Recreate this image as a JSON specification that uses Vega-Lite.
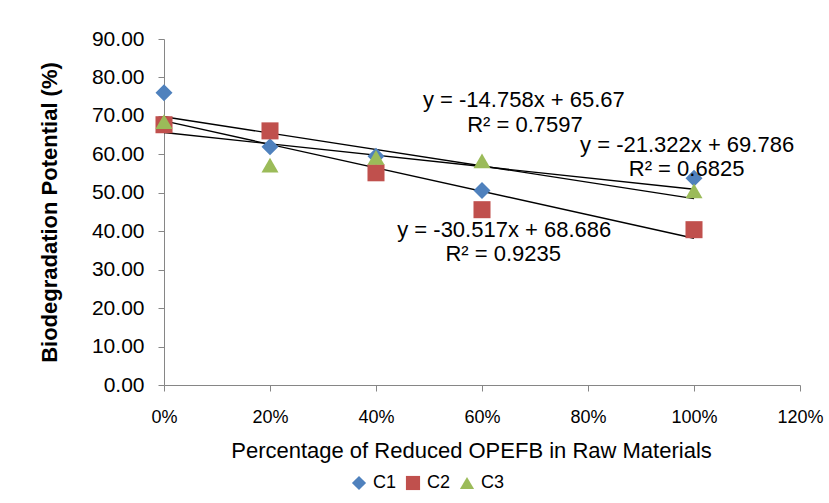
{
  "$schema": "https://vega.github.io/schema/vega-lite/v6.json",
  "autosize": "none",
  "width": 636,
  "height": 346,
  "padding": {"left": 164, "top": 39, "right": 29, "bottom": 118},
  "background": "white",
  "config": {
    "view": {"stroke": null},
    "font": "Liberation Sans",
    "axis": {"grid": false, "domainColor": "#868686", "tickColor": "#868686", "labelColor": "#000000", "titleColor": "#000000", "labelFont": "Liberation Sans", "titleFont": "Liberation Sans"},
    "legend": {"labelFont": "Liberation Sans", "labelColor": "#000000"}
  },
  "datasets": {
    "points": [
      {"pct": 0.0, "value": 76.0, "series": "C1"},
      {"pct": 0.2, "value": 62.0, "series": "C1"},
      {"pct": 0.4, "value": 59.5, "series": "C1"},
      {"pct": 0.6, "value": 50.6, "series": "C1"},
      {"pct": 1.0, "value": 53.8, "series": "C1"},
      {"pct": 0.0, "value": 67.7, "series": "C2"},
      {"pct": 0.2, "value": 66.1, "series": "C2"},
      {"pct": 0.4, "value": 55.2, "series": "C2"},
      {"pct": 0.6, "value": 45.6, "series": "C2"},
      {"pct": 1.0, "value": 40.4, "series": "C2"},
      {"pct": 0.0, "value": 68.5, "series": "C3"},
      {"pct": 0.2, "value": 57.2, "series": "C3"},
      {"pct": 0.4, "value": 59.2, "series": "C3"},
      {"pct": 0.6, "value": 58.3, "series": "C3"},
      {"pct": 1.0, "value": 50.5, "series": "C3"}
    ],
    "trend": [
      {"pct": 0.0, "value": 69.786, "series": "C1"},
      {"pct": 1.0, "value": 48.464, "series": "C1"},
      {"pct": 0.0, "value": 68.686, "series": "C2"},
      {"pct": 1.0, "value": 38.169, "series": "C2"},
      {"pct": 0.0, "value": 65.67, "series": "C3"},
      {"pct": 1.0, "value": 50.912, "series": "C3"}
    ],
    "labels": [
      {"pct": 0.679, "value": 74.2, "text": "y = -14.758x + 65.67"},
      {"pct": 0.681, "value": 67.7, "text": "R² = 0.7597"},
      {"pct": 0.987, "value": 62.5, "text": "y = -21.322x + 69.786"},
      {"pct": 0.986, "value": 56.3, "text": "R² = 0.6825"},
      {"pct": 0.642, "value": 40.4, "text": "y = -30.517x + 68.686"},
      {"pct": 0.640, "value": 34.1, "text": "R² = 0.9235"}
    ]
  },
  "encoding": {
    "x": {
      "field": "pct", "type": "quantitative",
      "scale": {"domain": [0, 1.2], "nice": false, "zero": false},
      "axis": {
        "values": [0, 0.2, 0.4, 0.6, 0.8, 1.0, 1.2], "format": ".0%",
        "title": "Percentage of Reduced OPEFB in Raw Materials",
        "labelFontSize": 18, "titleFontSize": 22, "titleFontWeight": "normal",
        "labelFlush": false, "labelOverlap": false,
        "tickSize": 6, "labelPadding": 17, "titlePadding": 14, "titleX": 307
      }
    },
    "y": {
      "field": "value", "type": "quantitative",
      "scale": {"domain": [0, 90], "nice": false},
      "axis": {
        "values": [0, 10, 20, 30, 40, 50, 60, 70, 80, 90], "format": ".2f",
        "title": "Biodegradation Potential (%)",
        "labelFontSize": 21, "titleFontSize": 22, "titleFontWeight": "bold",
        "labelOverlap": false, "labelFlush": false,
        "tickSize": 6, "labelPadding": 14, "titlePadding": 30
      }
    }
  },
  "layer": [
    {
      "data": {"name": "trend"},
      "mark": {"type": "line", "color": "#000000", "strokeWidth": 1.4},
      "encoding": {"detail": {"field": "series", "type": "nominal"}}
    },
    {
      "data": {"name": "points"},
      "mark": {"type": "point", "filled": true, "opacity": 1, "size": 290},
      "encoding": {
        "shape": {
          "field": "series", "type": "nominal",
          "scale": {"domain": ["C1", "C2", "C3"], "range": ["diamond", "square", "triangle-up"]},
          "legend": {
            "title": null, "orient": "none", "direction": "horizontal",
            "legendX": 186, "legendY": 435,
            "labelFontSize": 18, "symbolSize": 200, "columnPadding": 7, "labelOffset": 5
          }
        },
        "color": {
          "field": "series", "type": "nominal",
          "scale": {"domain": ["C1", "C2", "C3"], "range": ["#4F81BD", "#C0504D", "#9BBB59"]},
          "legend": {
            "title": null, "orient": "none", "direction": "horizontal",
            "legendX": 186, "legendY": 435,
            "labelFontSize": 18, "symbolSize": 200, "columnPadding": 7, "labelOffset": 5
          }
        }
      }
    },
    {
      "data": {"name": "labels"},
      "mark": {"type": "text", "fontSize": 22, "font": "Liberation Sans", "color": "#000000", "align": "center", "baseline": "middle"},
      "encoding": {"text": {"field": "text", "type": "nominal"}}
    }
  ]
}
